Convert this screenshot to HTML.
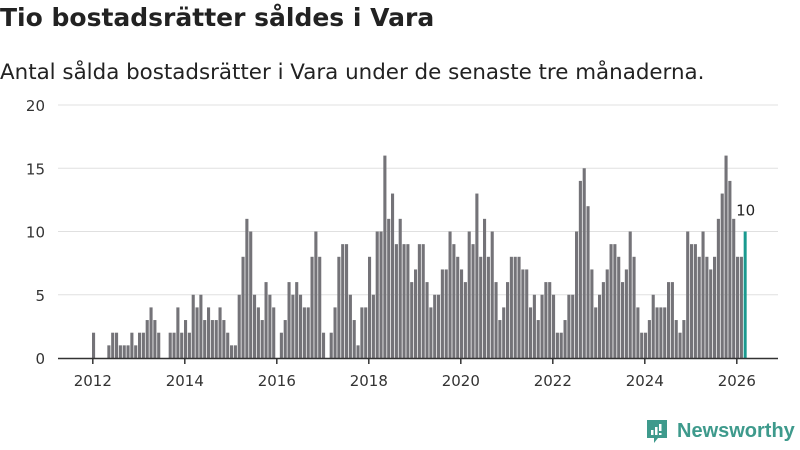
<!DOCTYPE html>
<html><head><meta charset="utf-8"><style>
body{margin:0;width:800px;height:450px;background:#fff;font-family:"DejaVu Sans","Liberation Sans",sans-serif;overflow:hidden;position:relative}
h1{position:absolute;left:0;top:3px;margin:0;font-size:25px;font-weight:bold;color:#222}
p.sub{position:absolute;left:0;top:60px;margin:0;font-size:21.4px;color:#222}
svg{position:absolute;left:0;top:0}
.logo{position:absolute;left:645px;top:418px;display:flex;align-items:center;color:#3e9a8c;font-size:20px;font-weight:bold;font-family:"Liberation Sans",sans-serif}
</style></head><body>
<h1>Tio bostadsrätter såldes i Vara</h1>
<p class="sub">Antal sålda bostadsrätter i Vara under de senaste tre månaderna.</p>
<svg id="chart" width="800" height="450"></svg>
<div class="logo">
<svg width="24" height="26" viewBox="0 0 24 26" style="position:static;margin-right:8px"><path d="M2 2h20v18H13l-4 5v-5H2z" fill="#3e9a8c"/><rect x="6" y="12" width="2.5" height="5" fill="#fff"/><rect x="10" y="9" width="2.5" height="8" fill="#fff"/><rect x="14" y="6" width="2.5" height="7" fill="#fff"/><rect x="14" y="15" width="2.5" height="2" fill="#fff"/></svg>
<span>Newsworthy</span></div>
<script>
const values=[2,0,0,0,1,2,2,1,1,1,2,1,
2,2,3,4,3,2,0,0,2,2,4,2,
3,2,5,4,5,3,4,3,3,4,3,2,
1,1,5,8,11,10,5,4,3,6,5,4,
0,2,3,6,5,6,5,4,4,8,10,8,
2,0,2,4,8,9,9,5,3,1,4,4,
8,5,10,10,16,11,13,9,11,9,9,6,
7,9,9,6,4,5,5,7,7,10,9,8,
7,6,10,9,13,8,11,8,10,6,3,4,
6,8,8,8,7,7,4,5,3,5,6,6,
5,2,2,3,5,5,10,14,15,12,7,4,
5,6,7,9,9,8,6,7,10,8,4,2,
2,3,5,4,4,4,6,6,3,2,3,10,
9,9,8,10,8,7,8,11,13,16,14,11,
8,8,10];
const startYear=2012;
const yTicks=[0,5,10,15,20];
const xTickYears=[2012,2014,2016,2018,2020,2022,2024,2026];
const NS="http://www.w3.org/2000/svg";
const svg=document.getElementById('chart');
const x0=92,monthW=46/12,y0=358,yTop=105,yMax=20;
const xs=i=>x0+i*monthW;
const ys=v=>y0-(v/yMax)*(y0-yTop);
const FF='DejaVu Sans, Liberation Sans, sans-serif';
function mk(t,a){const e=document.createElementNS(NS,t);for(const k in a)e.setAttribute(k,a[k]);svg.appendChild(e);return e;}
yTicks.forEach(v=>{
 if(v>0){const l=mk('line',{x1:58,x2:778,y1:ys(v),y2:ys(v),stroke:'#e0e0e0','stroke-width':1});
 
 }
 const t=mk('text',{x:45,y:ys(v)+6,'text-anchor':'end','font-size':15,fill:'#333','font-family':FF});
 t.textContent=v;
 
 
});
values.forEach((v,i)=>{
 const last=i===values.length-1;
 const r=mk('rect',{x:xs(i),y:ys(v),width:last?3:3.1,height:y0-ys(v),fill:last?'#1a9a8f':'#747378'});
 
 
});
const ax=mk('line',{x1:58,x2:778,y1:y0+0.5,y2:y0+0.5,stroke:'#333','stroke-width':1.5});


xTickYears.forEach(yr=>{
 const x=xs((yr-startYear)*12)+0.8;
 const tk=mk('line',{x1:x,x2:x,y1:y0,y2:y0+6,stroke:'#333','stroke-width':1.5});
 
 
 const t=mk('text',{x:x,y:386,'text-anchor':'middle','font-size':15,fill:'#333','font-family':FF});
 t.textContent=yr;
 
 
});
const li=values.length-1;
const lab=mk('text',{x:xs(li)+2,y:ys(values[li])-16,'text-anchor':'middle','font-size':15,fill:'#222','font-family':FF});
lab.textContent=values[li];


</script>
</body></html>
